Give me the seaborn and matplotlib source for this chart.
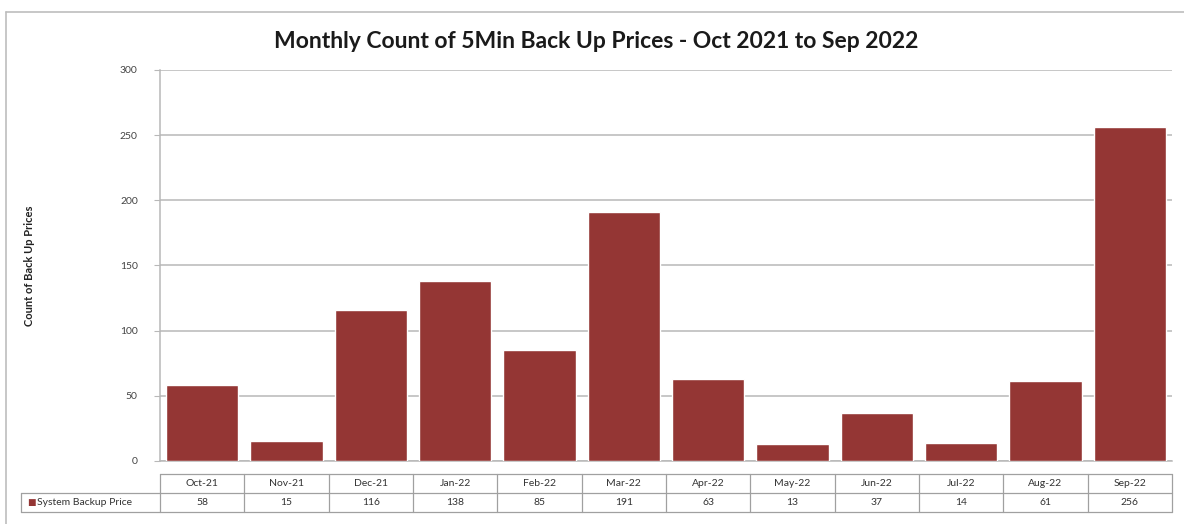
import matplotlib
matplotlib.use("Agg")
import matplotlib.pyplot as plt
import seaborn as sns
import pandas as pd
from matplotlib.lines import Line2D

months = ["Oct-21", "Nov-21", "Dec-21", "Jan-22", "Feb-22", "Mar-22",
          "Apr-22", "May-22", "Jun-22", "Jul-22", "Aug-22", "Sep-22"]
counts = [58, 15, 116, 138, 85, 191, 63, 13, 37, 14, 61, 256]
series_name = "System Backup Price"
title = "Monthly Count of 5Min Back Up Prices - Oct 2021 to Sep 2022"
ylabel = "Count of Back Up Prices"
yticks = [0, 50, 100, 150, 200, 250, 300]

BAR = "#943634"
GRID = "#b8b8b8"
EDGE = "#a0a0a0"

sns.set_theme(style="white")
plt.rcParams["font.family"] = ["Lato", "DejaVu Sans"]

W, H = 1184, 524
fig = plt.figure(figsize=(W / 100, H / 100), dpi=100)
axw = 1172 - 160
axh = 461 - 70
ax = fig.add_axes([160 / W, 1 - 461 / H, axw / W, axh / H])

df = pd.DataFrame({"month": months, "count": counts})
sns.barplot(data=df, x="month", y="count", color=BAR, saturation=1,
            width=0.855, ax=ax, zorder=3)

ax.set_ylim(0, 300)
ax.set_xlim(-0.5, len(months) - 0.5)
ax.set_yticks(yticks)
ax.set_yticklabels([str(t) for t in yticks], fontsize=7.5, color="#444444")
ax.set_xticks([])
ax.set_xlabel("")
ax.set_ylabel(ylabel, fontsize=8, fontweight="bold", color="#222222")
ax.yaxis.set_label_coords((35 - 160) / axw, 0.5)
ax.tick_params(axis="y", length=4, width=0.8, color=GRID, pad=12, left=True)
ax.yaxis.grid(True, color=GRID, linewidth=1.1, zorder=0)
for s in ["top", "right"]:
    ax.spines[s].set_visible(False)
for s in ["left", "bottom"]:
    ax.spines[s].set_color(GRID)
    ax.spines[s].set_linewidth(1.1)

# data table drawn in axes coordinates
def ay(py):
    return (461 - py) / axh

def ax_(px):
    return (px - 160) / axw

y_top, y_mid, y_bot = ay(474), ay(493), ay(512)
x_left = ax_(21)
lk = dict(transform=ax.transAxes, clip_on=False, color=EDGE, linewidth=0.9)
ax.plot([0, 1], [y_top, y_top], **lk)
ax.plot([x_left, 1], [y_mid, y_mid], **lk)
ax.plot([x_left, 1], [y_bot, y_bot], **lk)
ax.plot([x_left, x_left], [y_mid, y_bot], **lk)
n = len(months)
for i in range(n + 1):
    ax.plot([i / n, i / n], [y_top, y_bot], **lk)
tk = dict(transform=ax.transAxes, fontsize=7.5, color="#333333",
          ha="center", va="center")
for i, (m, c) in enumerate(zip(months, counts)):
    xc = (i + 0.5) / n
    ax.text(xc, (y_top + y_mid) / 2, m, **tk)
    ax.text(xc, (y_mid + y_bot) / 2, str(c), **tk)
ax.text(ax_(27), (y_mid + y_bot) / 2, "■", transform=ax.transAxes,
        color=BAR, fontsize=6.5, va="center", ha="left", family="DejaVu Sans")
ax.text(ax_(37), (y_mid + y_bot) / 2, series_name, transform=ax.transAxes,
        fontsize=7.5, color="#333333", va="center", ha="left")

fig.text(596 / W, 1 - 41 / H, title, ha="center", va="center",
         fontsize=16.5, fontweight="bold", color="#1a1a1a")

# outer frame (left and top edges visible)
fk = dict(transform=fig.transFigure, color="#bdbdbd", linewidth=1.2)
fig.add_artist(Line2D([6 / W, 6 / W], [0, 1 - 12 / H], **fk))
fig.add_artist(Line2D([6 / W, 1], [1 - 12 / H, 1 - 12 / H], **fk))

fig.savefig("out.png", dpi=100)
